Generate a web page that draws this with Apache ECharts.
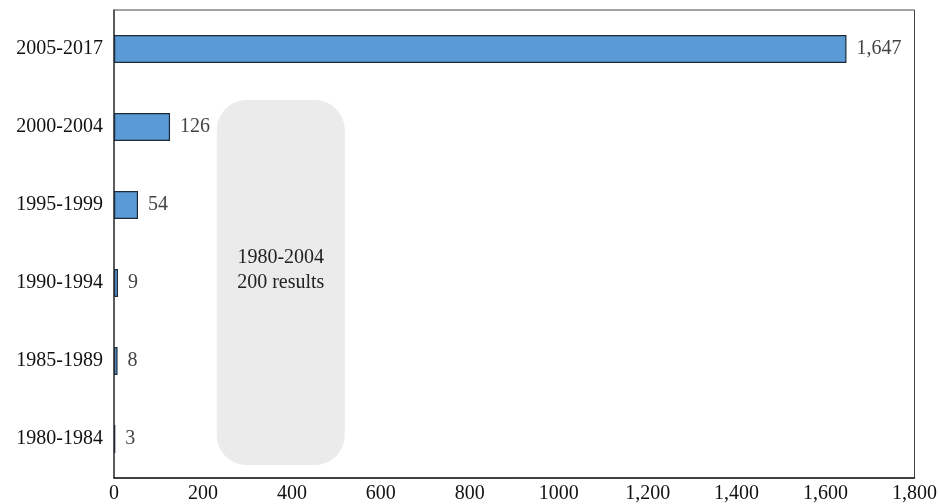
<!DOCTYPE html>
<html>
<head>
<meta charset="utf-8">
<script src="https://cdn.jsdelivr.net/npm/echarts@6/dist/echarts.min.js"></script>
<style>
  html, body { margin: 0; padding: 0; background: #fff; }
  #chart { width: 940px; height: 504px; }
</style>
</head>
<body>
<div id="chart"></div>
<script>
// Publication counts per period
const periods = ['1980-1984', '1985-1989', '1990-1994', '1995-1999', '2000-2004', '2005-2017'];
const counts = [3, 8, 9, 54, 126, 1647];
const xTicks = { min: 0, max: 1800, interval: 200 };
// Shaded summary panel (value range along x, category bounds along y)
const panelRange = [231, 519];
const panelText = ['1980-2004', '200 results'];

const FONT = '"Liberation Serif", "Times New Roman", serif';

function fmtTick(v) {
  if (v < 1000 || v === 1000) return String(v);
  return v.toLocaleString('en-US');
}

const chart = echarts.init(document.getElementById('chart'));
chart.setOption({
  animation: false,
  grid: {
    left: 114, right: 24, top: 10, bottom: 26,
    show: true, borderColor: '#444', borderWidth: 1, backgroundColor: 'transparent'
  },
  xAxis: {
    type: 'value',
    min: xTicks.min, max: xTicks.max, interval: xTicks.interval,
    axisLine: { show: true, lineStyle: { color: '#222', width: 1.5 } },
    axisTick: { show: false },
    splitLine: { show: false },
    axisLabel: {
      color: '#111', fontFamily: FONT, fontSize: 20, margin: 6,
      formatter: fmtTick
    }
  },
  yAxis: {
    type: 'category',
    data: periods,
    axisLine: { show: true, lineStyle: { color: '#444', width: 1.5 } },
    axisTick: { show: false },
    axisLabel: { color: '#111', fontFamily: FONT, fontSize: 20, margin: 11 }
  },
  series: [{
    type: 'bar',
    data: counts,
    barWidth: '36%',
    itemStyle: { color: '#5b9bd5', borderColor: '#1e2a38', borderWidth: 1.2 },
    label: {
      show: true, position: 'right', distance: 10,
      color: '#444', fontFamily: FONT, fontSize: 20,
      formatter: p => p.value.toLocaleString('en-US')
    },
    z: 3
  }]
});

// Rounded summary panel placed in data space
function drawPanel() {
  const x0 = chart.convertToPixel({ xAxisIndex: 0 }, panelRange[0]);
  const x1 = chart.convertToPixel({ xAxisIndex: 0 }, panelRange[1]);
  const yTop = chart.convertToPixel({ yAxisIndex: 0 }, periods[4]) - 27;
  const yBot = chart.convertToPixel({ yAxisIndex: 0 }, periods[0]) + 26;
  chart.setOption({
    graphic: [{
      type: 'rect',
      z: 1,
      shape: { x: x0, y: yTop, width: x1 - x0, height: yBot - yTop, r: 30 },
      style: { fill: '#ebebeb' }
    }, {
      type: 'text',
      z: 2,
      x: (x0 + x1) / 2,
      y: (yTop + yBot) / 2 - 12,
      style: {
        text: panelText.join('\n'),
        fill: '#222', font: '20px ' + FONT,
        align: 'center', verticalAlign: 'middle', lineHeight: 25
      }
    }]
  });
}
drawPanel();
</script>
</body>
</html>
